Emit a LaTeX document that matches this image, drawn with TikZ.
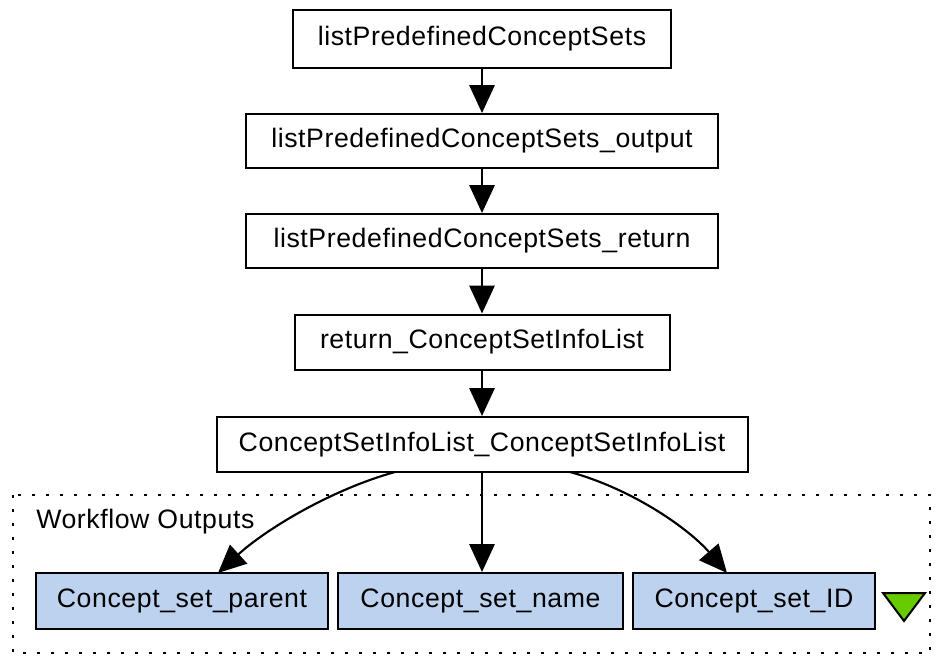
\documentclass[tikz,border=0pt]{standalone}
\usepackage{fontspec}
\setmainfont[LetterSpace=2.2]{Liberation Sans}
\usetikzlibrary{arrows.meta}
\definecolor{outfill}{HTML}{BCD2EE}
\definecolor{trigreen}{HTML}{66CC00}
\begin{document}
\begin{tikzpicture}[x=0.75pt,y=-0.75pt,
  every node/.style={font=\fontsize{20}{24}\selectfont},
  procbox/.style={draw=black,line width=1.5pt,fill=white,inner sep=0pt},
  outbox/.style={draw=black,line width=1.5pt,fill=outfill,inner sep=0pt},
  link/.style={line width=1.6pt,-{Triangle[length=21pt,width=19pt]}},
  cluster/.style={line width=2.2pt,dash pattern=on 2.4pt off 8.1pt}]
\useasboundingbox (0,0) rectangle (938,657);
% cluster
\draw[cluster] (13,495) rectangle (930,653);
\node[anchor=west,inner sep=0pt] (wflabel) at (36,522) {Workflow Outputs};
% processor boxes
\node[procbox,minimum width=283.5pt,minimum height=43.5pt] (p1) at (482,39) {listPredefinedConceptSets};
\node[procbox,minimum width=354pt,minimum height=40.5pt] (p2) at (482,141) {listPredefinedConceptSets\_output};
\node[procbox,minimum width=354pt,minimum height=40.5pt] (p3) at (482,241) {listPredefinedConceptSets\_return};
\node[procbox,minimum width=281.25pt,minimum height=41.25pt] (p4) at (482,342) {return\_ConceptSetInfoList};
\node[procbox,minimum width=398.25pt,minimum height=41.25pt] (p5) at (482,444.5) {ConceptSetInfoList\_ConceptSetInfoList};
% output boxes
\node[outbox,minimum width=219pt,minimum height=42pt] (o1) at (182,601) {Concept\_set\_parent};
\node[outbox,minimum width=213.75pt,minimum height=42pt] (o2) at (480.5,601) {Concept\_set\_name};
\node[outbox,minimum width=181.5pt,minimum height=42pt] (o3) at (754,601) {Concept\_set\_ID};
% triangle
\coordinate (t1) at (883,593);
\coordinate (t2) at (925,593);
\coordinate (t3) at (904,621);
\draw[line width=1.5pt,fill=trigreen,line join=miter] (t1) -- (t2) -- (t3) -- cycle;
% links
\draw[link] (p1.south) -- (p2.north);
\draw[link] (p2.south) -- (p3.north);
\draw[link] (p3.south) -- (p4.north);
\draw[link] (p4.south) -- (p5.north);
\coordinate (s1) at (395,472);
\coordinate (e1) at (218,573);
\coordinate (s3) at (570,472);
\coordinate (e3) at (727,573);
\draw[link] (s1) .. controls (330,490) and (265,530) .. (e1);
\draw[link] (p5.south) -- (p5.south |- o2.north);
\draw[link] (s3) .. controls (635,490) and (690,530) .. (e3);
\end{tikzpicture}
\end{document}
